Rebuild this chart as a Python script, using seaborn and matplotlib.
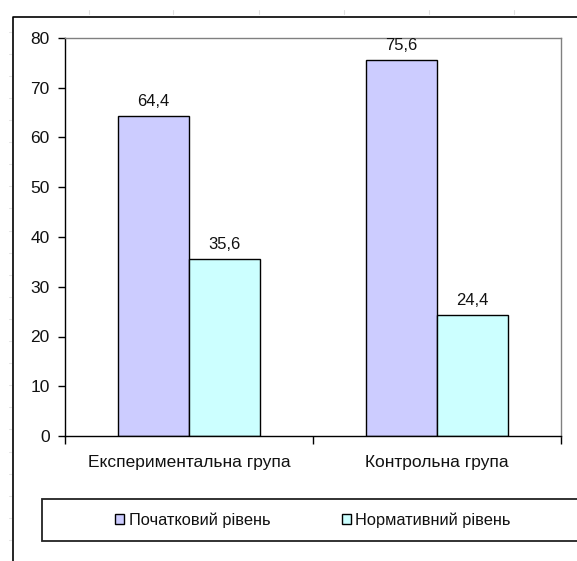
import matplotlib
matplotlib.use("Agg")
import matplotlib.pyplot as plt
import seaborn as sns
import pandas as pd
import numpy as np
from matplotlib.patches import Patch, Rectangle
from matplotlib.lines import Line2D

groups = ["Експериментальна група", "Контрольна група"]
levels = ["Початковий рівень", "Нормативний рівень"]
initial_values = [64.4, 75.6]
normative_values = [35.6, 24.4]
y_ticks = [0, 10, 20, 30, 40, 50, 60, 70, 80]
colors = ["#CCCCFF", "#CCFFFF"]

df = pd.DataFrame({
    "group": groups * 2,
    "level": [levels[0]] * 2 + [levels[1]] * 2,
    "value": initial_values + normative_values,
})

sns.set_style("white")
plt.rcParams["font.family"] = ["Liberation Sans", "DejaVu Sans"]

W, H = 577, 561
fig = plt.figure(figsize=(W / 100, H / 100), dpi=100)
ax = fig.add_axes([65 / W, 1 - 436 / H, (561 - 65) / W, (436 - 38) / H])

sns.barplot(data=df, x="group", y="value", hue="level", order=groups,
            hue_order=levels, palette=colors, edgecolor="black",
            linewidth=1.0, width=0.573, gap=0, saturation=1, ax=ax,
            legend=False)

for cont in ax.containers:
    vals = [b.get_height() for b in cont]
    ax.bar_label(cont, labels=[f"{v:.1f}".replace(".", ",") for v in vals],
                 padding=5, fontsize=12, color="#111111")

ax.set_xlim(-0.5, 1.5)
ax.set_ylim(0, 80)
ax.set_yticks(y_ticks)
ax.set_xlabel("")
ax.set_ylabel("")
ax.tick_params(axis="y", which="major", left=True, length=5, width=1,
               color="black", labelsize=12.5, pad=6, labelcolor="#111111")
ax.tick_params(axis="x", which="major", bottom=False, length=0,
               labelsize=12.5, pad=14, labelcolor="#111111")
ax.set_xticks([-0.5, 0.5, 1.5], minor=True)
ax.tick_params(axis="x", which="minor", bottom=True, length=6, width=1,
               color="black")
for s in ["left", "bottom"]:
    ax.spines[s].set_color("black")
    ax.spines[s].set_linewidth(1.0)
for s in ["top", "right"]:
    ax.spines[s].set_color("#808080")
    ax.spines[s].set_linewidth(1.0)
    ax.spines[s].set_visible(True)

# outer chart frame (left & top only; right side clipped)
fig.add_artist(Line2D([13 / W, 13 / W, 1.02], [0, 1 - 16.5 / H, 1 - 16.5 / H],
                      transform=fig.transFigure, color="black", linewidth=1.2))

# faint spreadsheet grid marks
for xp in [89, 173, 259, 344, 429, 514]:
    fig.add_artist(Line2D([xp / W, xp / W], [1 - 10 / H, 1 - 14 / H],
                          transform=fig.transFigure, color="#e0e0e0", linewidth=0.8))
for yp in np.arange(31.7, H, 22.1):
    fig.add_artist(Line2D([9 / W, 11 / W], [1 - yp / H, 1 - yp / H],
                          transform=fig.transFigure, color="#e4e4e4", linewidth=0.8))

# legend box
fig.add_artist(Rectangle((42 / W, 1 - 541 / H), 1.2, (541 - 499) / H,
                         transform=fig.transFigure, facecolor="white",
                         edgecolor="#222222", linewidth=1.3))
handles = [Patch(facecolor=c, edgecolor="black", linewidth=1.0) for c in colors]
fig.legend(handles, levels, loc="center", bbox_to_anchor=(313 / W, 1 - 520 / H),
           ncol=2, frameon=False, fontsize=11.8, handlelength=0.55,
           handleheight=0.6, handletextpad=0.25, columnspacing=4.4,
           labelcolor="#111111")

fig.savefig("out.png", dpi=100)
